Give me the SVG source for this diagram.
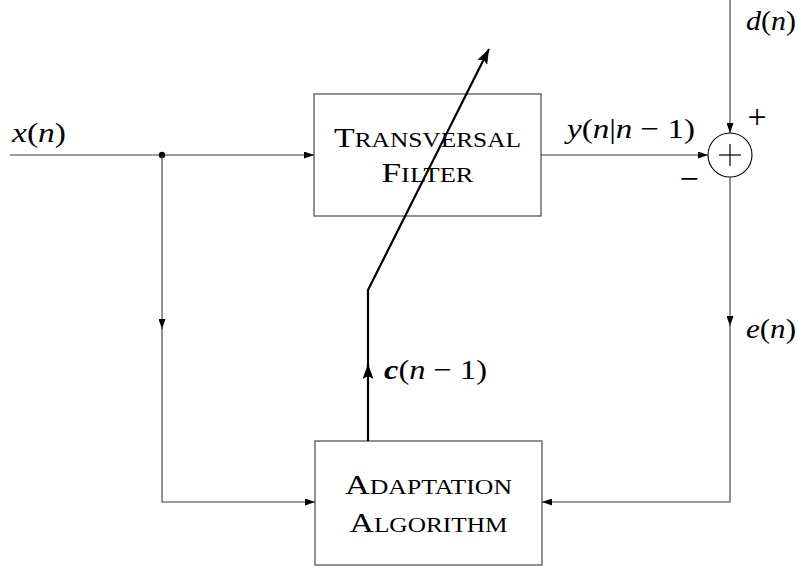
<svg xmlns="http://www.w3.org/2000/svg" width="798" height="567" viewBox="0 0 798 567">
  <style>
    .wire { fill: none; stroke: #3a3a3a; stroke-width: 1.1; }
    .box { fill: none; stroke: #555555; stroke-width: 1.3; }
    .bold { fill: none; stroke: #000000; stroke-width: 2.2; }
    .math { font-family: "Liberation Serif", "DejaVu Serif", serif; font-size: 28px; fill: #000; }
    .it { font-style: italic; }
    .sc { font-family: "Liberation Serif", "DejaVu Serif", serif; font-size: 21px; fill: #000; }
    .cap { font-size: 28px; }
    .sign { font-family: "Liberation Serif", "DejaVu Serif", serif; font-size: 34px; fill: #000; }
  </style>
  <defs>
    <marker id="tip" viewBox="0 0 10 7" refX="10" refY="3.5" markerWidth="10" markerHeight="7" markerUnits="userSpaceOnUse" orient="auto">
      <path d="M0,0 L10,3.5 L0,7 z" fill="#000"/>
    </marker>
    <marker id="tipBold" viewBox="0 0 15 11" refX="15" refY="5.5" markerWidth="15" markerHeight="11" markerUnits="userSpaceOnUse" orient="auto">
      <path d="M0,0 L15,5.5 L0,11 L3,5.5 z" fill="#000"/>
    </marker>
  </defs>

  <g id="filter">
    <rect class="box" x="314" y="94" width="227" height="122"/>
    <text class="sc" x="427.5" y="147" text-anchor="middle" textLength="187" lengthAdjust="spacingAndGlyphs"><tspan class="cap">T</tspan>RANSVERSAL</text>
    <text class="sc" x="427.5" y="182" text-anchor="middle" textLength="92" lengthAdjust="spacingAndGlyphs"><tspan class="cap">F</tspan>ILTER</text>
  </g>

  <g id="adaptation">
    <rect class="box" x="315" y="441" width="227" height="124"/>
    <text class="sc" x="428.5" y="494" text-anchor="middle" textLength="167" lengthAdjust="spacingAndGlyphs"><tspan class="cap">A</tspan>DAPTATION</text>
    <text class="sc" x="428.5" y="532" text-anchor="middle" textLength="158" lengthAdjust="spacingAndGlyphs"><tspan class="cap">A</tspan>LGORITHM</text>
  </g>

  <!-- summing junction -->
  <g id="summer">
    <circle cx="730" cy="155" r="22" fill="none" stroke="#000" stroke-width="1.1"/>
    <line x1="719" y1="155" x2="741" y2="155" stroke="#000" stroke-width="1.2"/>
    <line x1="730" y1="144" x2="730" y2="166" stroke="#000" stroke-width="1.2"/>
    <text class="sign" x="757" y="128" text-anchor="middle">+</text>
    <text class="sign" x="689" y="190" text-anchor="middle">−</text>
  </g>

  <!-- signal connectors -->
  <g id="connectors">
    <!-- input x(n) to the filter -->
    <line class="wire" x1="10" y1="155" x2="314" y2="155" marker-end="url(#tip)"/>
    <circle cx="162" cy="155" r="3.2" fill="#000"/>
    <!-- tap down to the adaptation block -->
    <line class="wire" x1="162" y1="155" x2="162" y2="329" marker-end="url(#tip)"/>
    <polyline class="wire" points="162,326 162,502 315,502" marker-end="url(#tip)"/>
    <!-- filter output to the summer -->
    <line class="wire" x1="541" y1="155" x2="708" y2="155" marker-end="url(#tip)"/>
    <!-- desired signal d(n) -->
    <line class="wire" x1="730" y1="0" x2="730" y2="133" marker-end="url(#tip)"/>
    <!-- error e(n) back to the adaptation block -->
    <line class="wire" x1="730" y1="177" x2="730" y2="326" marker-end="url(#tip)"/>
    <polyline class="wire" points="730,323 730,502 542,502" marker-end="url(#tip)"/>
    <!-- coefficient update c(n-1) -->
    <line class="bold" x1="368" y1="441" x2="368" y2="364" marker-end="url(#tipBold)"/>
    <polyline class="bold" points="368,368 368,290 489,49" marker-end="url(#tipBold)"/>
  </g>

  <!-- signal labels -->
  <g id="labels">
    <text class="math" x="12" y="142" textLength="54" lengthAdjust="spacingAndGlyphs"><tspan class="it">x</tspan>(<tspan class="it">n</tspan>)</text>
    <text class="math" x="746" y="30" textLength="50" lengthAdjust="spacingAndGlyphs"><tspan class="it">d</tspan>(<tspan class="it">n</tspan>)</text>
    <text class="math" x="567" y="138" textLength="128" lengthAdjust="spacingAndGlyphs"><tspan class="it">y</tspan>(<tspan class="it">n</tspan>|<tspan class="it">n</tspan> − 1)</text>
    <text class="math" x="746" y="338" textLength="50" lengthAdjust="spacingAndGlyphs"><tspan class="it">e</tspan>(<tspan class="it">n</tspan>)</text>
    <text class="math" x="384" y="379" textLength="103" lengthAdjust="spacingAndGlyphs"><tspan class="it" font-weight="bold">c</tspan>(<tspan class="it">n</tspan> − 1)</text>
  </g>
</svg>
